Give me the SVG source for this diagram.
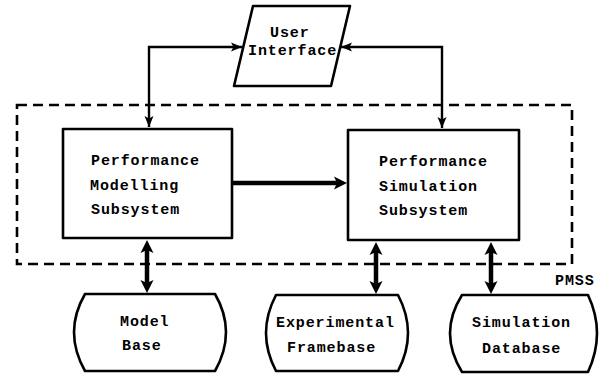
<svg xmlns="http://www.w3.org/2000/svg" width="604" height="375" viewBox="0 0 604 375">
  <style>
    .shape { fill: #fff; stroke: #000; stroke-width: 2.6; stroke-linejoin: round; }
    .label { font-family: "Liberation Mono", "DejaVu Sans Mono", monospace; font-weight: bold; font-size: 15px; letter-spacing: 0.9px; fill: #000; }
    .wire { fill: none; stroke: #000; stroke-width: 2.4; }
    .bus { fill: none; stroke: #000; stroke-width: 4.5; }
    .boundary { fill: none; stroke: #000; stroke-width: 2.6; stroke-dasharray: 10 6; }
  </style>
  <defs>
    <marker id="head" viewBox="0 0 12 10" refX="11" refY="5" markerWidth="12" markerHeight="10" markerUnits="userSpaceOnUse" orient="auto-start-reverse">
      <path d="M0,0.5 L11,5 L0,9.5 L2.5,5 Z" fill="#000"/>
    </marker>
    <!-- wider head for the heavy data paths; tip reaches 8px past the line end -->
    <marker id="bighead" viewBox="0 0 14 14" refX="5" refY="7" markerWidth="14" markerHeight="14" markerUnits="userSpaceOnUse" orient="auto-start-reverse">
      <path d="M0,0.5 L13,7 L0,13.5 L3,7 Z" fill="#000"/>
    </marker>
  </defs>
  <rect width="604" height="375" fill="#fff"/>

  <!-- PMSS boundary -->
  <g id="pmss">
    <rect class="boundary" x="17" y="105" width="555" height="159"/>
    <text class="label" x="555" y="285">PMSS</text>
  </g>

  <g id="connectors">
    <path class="wire" d="M149,127 V47 H242" marker-start="url(#head)" marker-end="url(#head)"/>
    <path class="wire" d="M341,47 H442 V128" marker-start="url(#head)" marker-end="url(#head)"/>
    <path class="bus" d="M233,183 H339" marker-end="url(#bighead)"/>
    <path class="bus" d="M147,248 V285" marker-start="url(#bighead)" marker-end="url(#bighead)"/>
    <path class="bus" d="M376,250 V286" stroke-width="3.5" marker-start="url(#bighead)" marker-end="url(#bighead)"/>
    <path class="bus" d="M491,250 V286" stroke-width="3.5" marker-start="url(#bighead)" marker-end="url(#bighead)"/>
  </g>

  <g id="user-interface">
    <path class="shape" d="M253,6 L350,6 L331,86 L234,86 Z"/>
    <text class="label" x="270" y="37">User</text>
    <text class="label" x="248" y="55">Interface</text>
  </g>

  <g id="modelling-subsystem">
    <rect class="shape" x="63" y="129" width="169" height="109"/>
    <text class="label" x="91" y="165">Performance</text>
    <text class="label" x="90" y="190">Modelling</text>
    <text class="label" x="91" y="214">Subsystem</text>
  </g>

  <g id="simulation-subsystem">
    <rect class="shape" x="348" y="130" width="171" height="110"/>
    <text class="label" x="379" y="166">Performance</text>
    <text class="label" x="379" y="191">Simulation</text>
    <text class="label" x="379" y="215">Subsystem</text>
  </g>

  <g id="model-base">
    <path class="shape" d="M85,294 L215,294 Q237,332 215,371 L85,371 Q63,332 85,294 Z"/>
    <text class="label" x="120" y="326">Model</text>
    <text class="label" x="122" y="350">Base</text>
  </g>

  <g id="experimental-framebase">
    <path class="shape" d="M276,295 L398,295 Q418,333 398,371 L276,371 Q256,333 276,295 Z"/>
    <text class="label" x="276" y="327">Experimental</text>
    <text class="label" x="287" y="352">Framebase</text>
  </g>

  <g id="simulation-database">
    <path class="shape" d="M462,295 L588,295 Q606,333 588,372 L462,372 Q438,333 462,295 Z"/>
    <text class="label" x="472" y="327">Simulation</text>
    <text class="label" x="482" y="353">Database</text>
  </g>
</svg>
